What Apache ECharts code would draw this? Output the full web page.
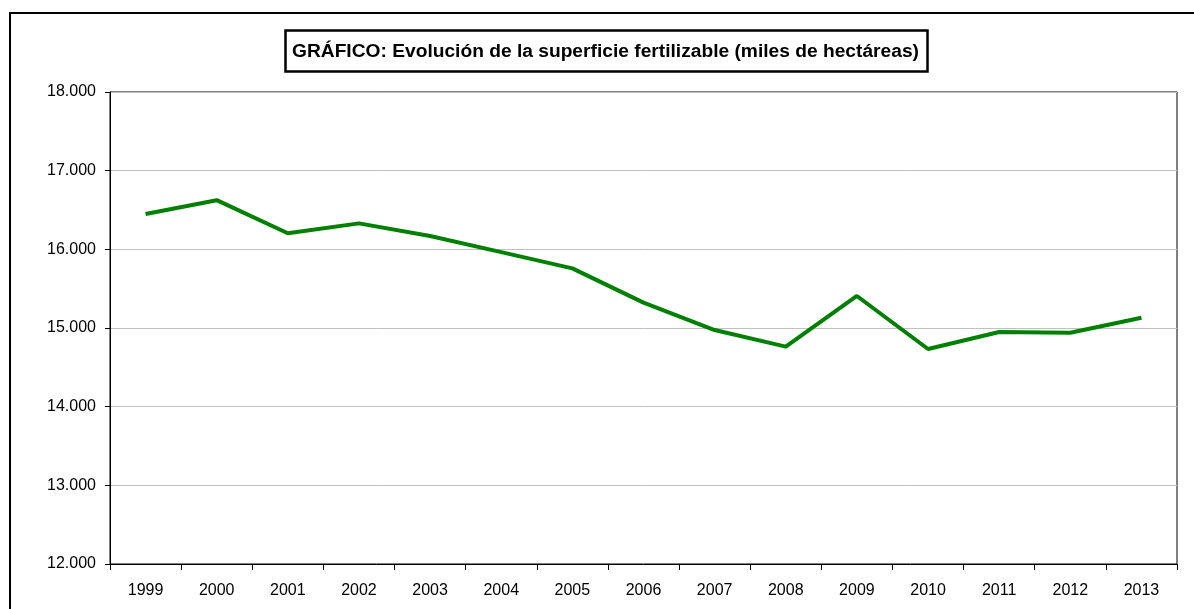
<!DOCTYPE html>
<html>
<head>
<meta charset="utf-8">
<script src="https://cdn.jsdelivr.net/npm/echarts@6/dist/echarts.min.js"></script>
<style>
html,body{margin:0;padding:0;background:#fff;}
#main{width:1194px;height:609px;}
</style>
</head>
<body>
<div id="main"></div>
<script>
const titleText = 'GRÁFICO: Evolución de la superficie fertilizable (miles de hectáreas)';
const years = ['1999','2000','2001','2002','2003','2004','2005','2006','2007','2008','2009','2010','2011','2012','2013'];
const superficie = [16450, 16625, 16205, 16330, 16170, 15965, 15758, 15322, 14974, 14763, 15407, 14733, 14949, 14940, 15131];
const yTicks = [12000, 13000, 14000, 15000, 16000, 17000, 18000];

function fmt(v){ return String(v).replace(/\B(?=(\d{3})+(?!\d))/g, '.'); }

const chart = echarts.init(document.getElementById('main'), null, {renderer:'canvas'});
chart.setOption({
  animation: false,
  backgroundColor: '#fff',
  textStyle: { fontFamily: '"Liberation Sans", Arial, sans-serif' },
  title: {
    text: titleText,
    left: 285, top: 30,
    padding: [11, 9, 10, 7],
    borderColor: '#000', borderWidth: 2.5,
    textStyle: { fontFamily: '"Liberation Sans", Arial, sans-serif', fontWeight: 'bold', fontSize: 19.2, color: '#000', lineHeight: 21 }
  },
  graphic: [{
    type: 'rect', silent: true, z: 100,
    shape: { x: 10, y: 13, width: 1300, height: 700 },
    style: { fill: 'none', stroke: '#000', lineWidth: 2 }
  }],
  grid: { left: 110, top: 92, right: 17, bottom: 45, show: true, borderColor: '#000', borderWidth: 1, backgroundColor: 'transparent' },
  xAxis: {
    type: 'category', data: years, boundaryGap: true,
    axisLine: { lineStyle: { color: '#000', width: 1 } },
    axisTick: { show: true, length: 6, alignWithLabel: false, lineStyle: { color: '#000' } },
    axisLabel: { color: '#000', fontSize: 16, margin: 19, interval: 0 },
    splitLine: { show: false }
  },
  yAxis: {
    type: 'value', min: yTicks[0], max: yTicks[yTicks.length-1], interval: 1000,
    axisLine: { show: true, lineStyle: { color: '#000', width: 1 } },
    axisTick: { show: true, length: 5, lineStyle: { color: '#000' } },
    axisLabel: { color: '#000', fontSize: 16, margin: 14, formatter: fmt },
    splitLine: { show: true, lineStyle: { color: '#c0c0c0', width: 1 } }
  },
  series: [{
    type: 'line', data: superficie, symbol: 'none',
    lineStyle: { color: '#008000', width: 4 },
    itemStyle: { color: '#008000' }
  }]
});
</script>
</body>
</html>
